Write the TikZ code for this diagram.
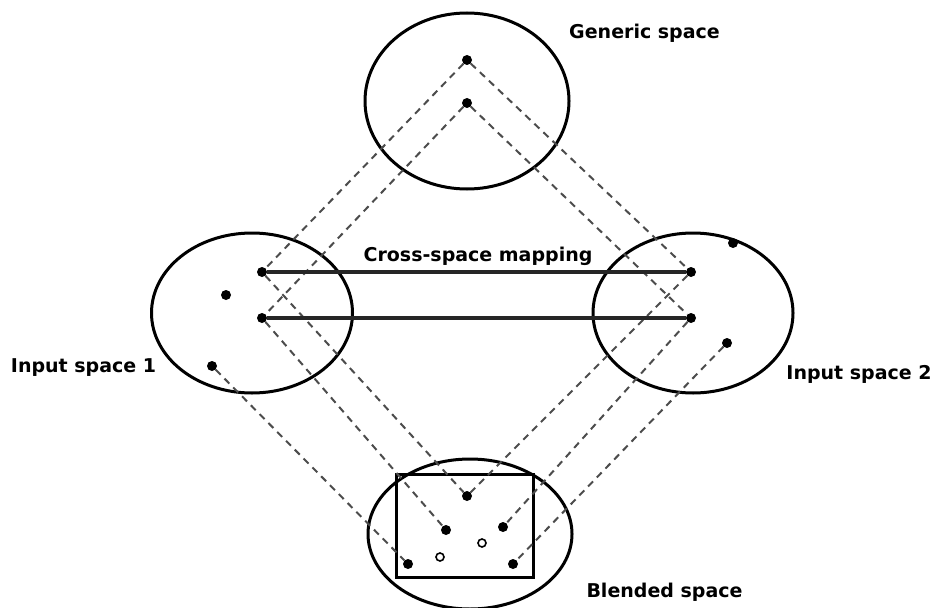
\documentclass[tikz,border=0pt]{standalone}
\usepackage{fontspec}
\setmainfont{DejaVu Sans}
\usetikzlibrary{shapes.geometric}

\tikzset{
  spacebox/.style={ellipse, draw=black, line width=3pt, inner sep=0pt},
  dot/.style={circle, fill=black, inner sep=0pt, minimum size=10pt},
  hollow/.style={circle, draw=black, fill=white, line width=1.6pt, inner sep=0pt, minimum size=8pt},
  link/.style={draw=black!70, line width=2pt, dash pattern=on 7pt off 5.5pt},
  mapline/.style={draw=black!85, line width=3.2pt},
  lbl/.style={font=\bfseries\fontsize{19}{22}\selectfont, text=black, inner sep=0pt, anchor=base}
}

\begin{document}
\begin{tikzpicture}[x=1pt, y=-1pt]
  \useasboundingbox (0,0) rectangle (933,607);

  % the four mental spaces
  \node[spacebox, minimum width=204pt, minimum height=176pt] (gen) at (467,101) {};
  \node[spacebox, minimum width=201pt, minimum height=160pt] (in1) at (252,313) {};
  \node[spacebox, minimum width=200pt, minimum height=160pt] (in2) at (693,313) {};
  \node[spacebox, minimum width=204pt, minimum height=150pt] (bl) at (470,534) {};
  \draw[line width=3pt] (396,474) rectangle (533,577);

  % elements
  \node[dot] (g1) at (467,60) {};
  \node[dot] (g2) at (467,103) {};

  \node[dot] (a1) at (262,272) {};
  \node[dot] (a2) at (226,295) {};
  \node[dot] (a3) at (262,318) {};
  \node[dot] (a4) at (212,366) {};

  \node[dot] (b1) at (691,272) {};
  \node[dot] (b2) at (733,243) {};
  \node[dot] (b3) at (691,318) {};
  \node[dot] (b4) at (727,343) {};

  \node[dot] (c1) at (467,496) {};
  \node[dot] (c2) at (446,530) {};
  \node[dot] (c3) at (503,527) {};
  \node[hollow] (c4) at (482,543) {};
  \node[hollow] (c5) at (440,557) {};
  \node[dot] (c6) at (408,564) {};
  \node[dot] (c7) at (513,564) {};

  % generic space to the inputs
  \draw[link] (g1) -- (a1);
  \draw[link] (g2) -- (a3);
  \draw[link] (g1) -- (b1);
  \draw[link] (g2) -- (b3);

  % inputs projected into the blend
  \draw[link] (a1) -- (c1);
  \draw[link] (a3) -- (c2);
  \draw[link] (a4) -- (c6);
  \draw[link] (b1) -- (c1);
  \draw[link] (b3) -- (c3);
  \draw[link] (b4) -- (c7);

  % cross-space mapping
  \draw[mapline] (a1) -- (b1);
  \draw[mapline] (a3) -- (b3);

  % labels
  \node[lbl] (lgen) at (644.5,39) {Generic space};
  \node[lbl] (lmap) at (478,261) {Cross-space mapping};
  \node[lbl] (lin1) at (83.5,372) {Input space 1};
  \node[lbl] (lin2) at (859,379) {Input space 2};
  \node[lbl] (lbl) at (664.5,597) {Blended space};
\end{tikzpicture}
\end{document}
